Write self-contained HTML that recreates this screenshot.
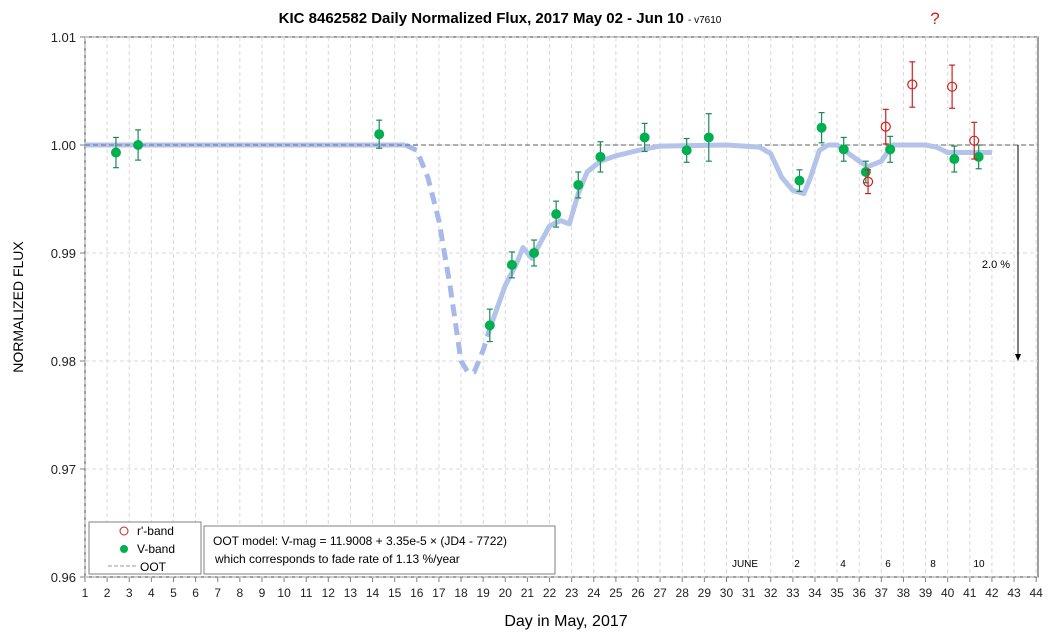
<!DOCTYPE html>
<html><head><meta charset="utf-8"><style>
body{margin:0;background:#fff;font-family:"Liberation Sans",sans-serif}
svg text{font-family:"Liberation Sans",sans-serif}
</style></head><body>
<svg id="c" width="1053" height="635" xmlns="http://www.w3.org/2000/svg"></svg>
<script>
const vDays=[2.4,3.4,14.3,19.3,20.3,21.3,22.3,23.3,24.3,26.3,28.2,29.2,33.3,34.3,35.3,36.3,37.4,40.3,41.4];
const vFlux=[0.9993,1.0000,1.0010,0.9833,0.9889,0.9900,0.9936,0.9963,0.9989,1.0007,0.9995,1.0007,0.9967,1.0016,0.9996,0.9975,0.9996,0.9987,0.9989];
const vErr=[0.0014,0.0014,0.0013,0.0015,0.0012,0.0012,0.0012,0.0012,0.0014,0.0013,0.0011,0.0022,0.0010,0.0014,0.0011,0.0010,0.0012,0.0012,0.0011];
const rDays=[36.4,37.2,38.4,40.2,41.2];
const rFlux=[0.9966,1.0017,1.0056,1.0054,1.0004];
const rErr=[0.0011,0.0016,0.0021,0.0020,0.0017];
const mDashD=[15.5,16,16.5,17,17.5,18,18.3,18.6,19,19.3];
const mDashF=[1.0,0.9995,0.997,0.993,0.987,0.980,0.979,0.979,0.981,0.983];
const mD=[1,15.5];
const mF=[1.0,1.0];
const m2D=[19.3,20,20.5,20.8,21.2,21.6,22,22.5,22.9,23.3,23.7,24.3,25,26,27,30,31.5,32,32.5,33,33.5,33.8,34.2,34.6,35,36,36.4,37,37.5,39,39.5,40,41,42];
const m2F=[0.983,0.987,0.989,0.9905,0.9895,0.991,0.9925,0.993,0.9927,0.9955,0.9975,0.9985,0.999,0.9995,0.9999,1.0,0.9998,0.9992,0.997,0.9958,0.9955,0.997,0.9995,1.0,1.0,0.9985,0.998,0.9985,1.0,1.0,0.9998,0.9993,0.9993,0.9993];
const xTicks=[...Array(44).keys()].map(i=>i+1);
const yTicks=[0.96,0.97,0.98,0.99,1.00,1.01];
const X=d=>85+(d-1)*22.12, Y=f=>145-(f-1)*10800;
const svg=document.getElementById('c');const NS='http://www.w3.org/2000/svg';
function el(t,a,name,txt){const e=document.createElementNS(NS,t);for(const k in a)e.setAttribute(k,a[k]);


if(txt!=null)e.textContent=txt;svg.appendChild(e);return e;}
el('rect',{x:85,y:37,width:953,height:540,fill:'#fff',stroke:'#808080','stroke-width':1.5},'plot-area');
xTicks.forEach(d=>{el('line',{x1:X(d),x2:X(d),y1:37,y2:577,stroke:'#d9d9d9','stroke-dasharray':'4,3'},'x-grid');
el('line',{x1:X(d),x2:X(d),y1:577,y2:582,stroke:'#808080'},'x-tick');
el('text',{x:X(d),y:597,'font-size':12,'text-anchor':'middle',fill:'#222'},'x-tick-label',d);});
yTicks.forEach(f=>{el('line',{x1:85,x2:1038,y1:Y(f),y2:Y(f),stroke:'#d9d9d9','stroke-dasharray':'4,3'},'y-grid');
el('line',{x1:80,x2:85,y1:Y(f),y2:Y(f),stroke:'#808080'},'y-tick');
el('text',{x:76,y:Y(f)+5,'font-size':13,'text-anchor':'end',fill:'#222'},'y-tick-label',f.toFixed(2));});
el('line',{x1:85,x2:1038,y1:Y(1),y2:Y(1),stroke:'#808080','stroke-width':1.3,'stroke-dasharray':'5,3'},'oot-line');
const pl=(D,F)=>D.map((d,i)=>X(d)+','+Y(F[i])).join(' ');
el('polyline',{points:pl(mD,mF),fill:'none',stroke:'#b4c3ea','stroke-width':5,'stroke-linejoin':'round'},'model-flat');
el('polyline',{points:pl(mDashD,mDashF),fill:'none',stroke:'#a7b9e8','stroke-width':5,'stroke-dasharray':'12,7'},'model-dip-dashed');
el('polyline',{points:pl(m2D,m2F),fill:'none',stroke:'#b4c3ea','stroke-width':5,'stroke-linejoin':'round'},'model-recovery');
el('line',{x1:85,x2:420,y1:Y(1),y2:Y(1),stroke:'#7080a0','stroke-width':1.3,'stroke-dasharray':'5,3'},'oot-line-overlay');
function eb(d,f,e,c,n){const x=X(d);el('line',{x1:x,x2:x,y1:Y(f+e),y2:Y(f-e),stroke:c,'stroke-width':1.2},n+'-errorbar');
[f+e,f-e].forEach(v=>el('line',{x1:x-3,x2:x+3,y1:Y(v),y2:Y(v),stroke:c,'stroke-width':1.2},n+'-errorcap'));}
vDays.forEach((d,i)=>{eb(d,vFlux[i],vErr[i],'#1a8a5a','v-band');el('circle',{cx:X(d),cy:Y(vFlux[i]),r:5,fill:'#00b050'},'v-band-point');});
rDays.forEach((d,i)=>{eb(d,rFlux[i],rErr[i],'#d02020','r-band');el('circle',{cx:X(d),cy:Y(rFlux[i]),r:4.5,fill:'none',stroke:'#d02020','stroke-width':1.2},'r-band-point');});
el('line',{x1:1018,x2:1018,y1:Y(1),y2:Y(0.98)-6,stroke:'#000','stroke-width':1},'scale-arrow');
el('polygon',{points:`1015,${Y(0.98)-7} 1021,${Y(0.98)-7} 1018,${Y(0.98)}`,fill:'#000'},'scale-arrowhead');
el('text',{x:996,y:268,'font-size':11,'text-anchor':'middle'},'scale-label','2.0 %');
[['JUNE',745],['2',797],['4',843],['6',888],['8',933],['10',979]].forEach(a=>el('text',{x:a[1],y:567,'font-size':10,'text-anchor':'middle'},'june-day-label',a[0]));
el('text',{x:935,y:24,'font-size':17,fill:'#d02020','text-anchor':'middle'},'question-mark','?');
const t=el('text',{x:500,y:23,'font-size':15,'font-weight':'bold','text-anchor':'middle'},'chart-title','KIC 8462582 Daily Normalized Flux, 2017 May 02 - Jun 10 ');
const ts=document.createElementNS(NS,'tspan');ts.setAttribute('font-size','10');ts.setAttribute('font-weight','normal');ts.textContent='- v7610';t.appendChild(ts);
el('text',{x:566,y:626,'font-size':16,'text-anchor':'middle'},'x-axis-title','Day in May, 2017');
el('text',{x:23,y:307,'font-size':14,'text-anchor':'middle',transform:'rotate(-90 23 307)'},'y-axis-title','NORMALIZED FLUX');
el('rect',{x:89,y:522,width:112,height:52,fill:'#fff',stroke:'#808080'},'legend');
el('circle',{cx:124,cy:531,r:4,fill:'none',stroke:'#d02020'},'legend-r-marker');
el('text',{x:137,y:535,'font-size':12},'legend-r-label',"r'-band");
el('circle',{cx:124,cy:549,r:4,fill:'#00b050'},'legend-v-marker');
el('text',{x:137,y:553,'font-size':12},'legend-v-label','V-band');
el('line',{x1:108,x2:138,y1:566,y2:566,stroke:'#999','stroke-dasharray':'4,2'},'legend-oot-line');
el('text',{x:140,y:571,'font-size':12},'legend-oot-label','OOT');
el('rect',{x:204,y:526,width:351,height:48,fill:'#fff',stroke:'#808080'},'model-note-box');
el('text',{x:213,y:545,'font-size':12},'model-note-line1','OOT model:  V-mag  = 11.9008 + 3.35e-5 × (JD4 - 7722)');
el('text',{x:215,y:563,'font-size':12},'model-note-line2','which corresponds to fade rate of 1.13 %/year');
</script>
</body></html>
